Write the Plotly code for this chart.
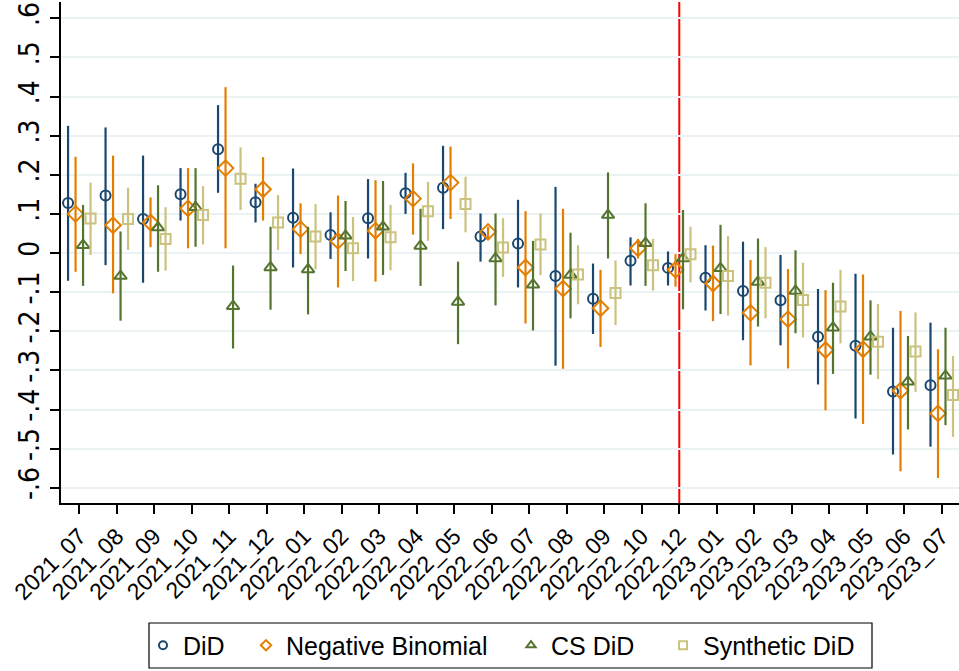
import plotly.graph_objects as go

categories = ["2021_07", "2021_08", "2021_09", "2021_10", "2021_11", "2021_12",
              "2022_01", "2022_02", "2022_03", "2022_04", "2022_05", "2022_06",
              "2022_07", "2022_08", "2022_09", "2022_10", "2022_12",
              "2023_01", "2023_02", "2023_03", "2023_04", "2023_05", "2023_06", "2023_07"]

did_est = [0.128, 0.147, 0.087, 0.150, 0.265, 0.130, 0.090, 0.046, 0.089, 0.153, 0.167, 0.042,
           0.024, -0.059, -0.117, -0.020, -0.038, -0.063, -0.097, -0.121, -0.214, -0.237, -0.354, -0.338]
did_lo = [-0.071, -0.031, -0.076, 0.083, 0.154, 0.078, -0.037, -0.015, -0.014, 0.100, 0.061, -0.022,
          -0.088, -0.288, -0.207, -0.083, -0.083, -0.147, -0.223, -0.236, -0.336, -0.423, -0.515, -0.495]
did_hi = [0.325, 0.321, 0.249, 0.217, 0.378, 0.177, 0.216, 0.104, 0.189, 0.205, 0.274, 0.101,
          0.136, 0.169, -0.027, 0.040, 0.004, 0.020, 0.029, -0.005, -0.092, -0.053, -0.191, -0.178]

nb_est = [0.100, 0.071, 0.078, 0.114, 0.217, 0.163, 0.061, 0.031, 0.057, 0.139, 0.180, 0.054,
          -0.037, -0.091, -0.141, 0.012, -0.043, -0.078, -0.153, -0.169, -0.248, -0.246, -0.352, -0.410]
nb_lo = [-0.048, -0.103, 0.015, 0.012, 0.012, 0.083, -0.003, -0.088, -0.073, 0.047, 0.087, 0.038,
         -0.180, -0.296, -0.240, -0.014, -0.086, -0.174, -0.287, -0.295, -0.402, -0.437, -0.558, -0.575]
nb_hi = [0.246, 0.249, 0.142, 0.217, 0.424, 0.245, 0.127, 0.147, 0.186, 0.229, 0.272, 0.067,
         0.107, 0.113, -0.043, 0.036, -0.003, 0.019, -0.018, -0.041, -0.095, -0.055, -0.148, -0.246]

cs_est = [0.020, -0.059, 0.065, 0.117, -0.136, -0.037, -0.042, 0.044, 0.067, 0.018, -0.125, -0.014,
          -0.081, -0.056, 0.097, 0.025, -0.014, -0.039, -0.074, -0.097, -0.191, -0.214, -0.329, -0.314]
cs_lo = [-0.084, -0.173, -0.048, 0.016, -0.244, -0.145, -0.157, -0.046, -0.056, -0.084, -0.233, -0.134,
         -0.198, -0.167, -0.014, -0.084, -0.144, -0.156, -0.188, -0.205, -0.309, -0.311, -0.451, -0.440]
cs_hi = [0.123, 0.055, 0.173, 0.217, -0.032, 0.067, 0.067, 0.133, 0.184, 0.113, -0.022, 0.101,
         0.031, 0.052, 0.206, 0.127, 0.110, 0.072, 0.037, 0.007, -0.076, -0.121, -0.212, -0.191]

sd_est = [0.088, 0.087, 0.036, 0.097, 0.190, 0.078, 0.042, 0.012, 0.040, 0.107, 0.125, 0.014,
          0.022, -0.055, -0.102, -0.031, -0.003, -0.059, -0.076, -0.120, -0.137, -0.227, -0.252, -0.363]
sd_lo = [-0.005, 0.008, -0.045, 0.022, 0.110, 0.008, -0.042, -0.072, -0.044, 0.031, 0.053, -0.061,
         -0.057, -0.131, -0.184, -0.096, -0.075, -0.160, -0.167, -0.216, -0.231, -0.322, -0.355, -0.470]
sd_hi = [0.180, 0.167, 0.117, 0.171, 0.270, 0.148, 0.125, 0.092, 0.123, 0.182, 0.195, 0.089,
         0.101, 0.020, -0.019, 0.036, 0.067, 0.043, 0.015, -0.025, -0.043, -0.130, -0.152, -0.263]

series_names = ["DiD", "Negative Binomial", "CS DiD", "Synthetic DiD"]
ytick_vals = [-0.6, -0.5, -0.4, -0.3, -0.2, -0.1, 0, 0.1, 0.2, 0.3, 0.4, 0.5, 0.6]
ytick_text = ["-.6", "-.5", "-.4", "-.3", "-.2", "-.1", "0", ".1", ".2", ".3", ".4", ".5", ".6"]
event_category = "2022_12"

colors = ["#1a476f", "#e37e00", "#55752f", "#cac27e"]
symbols = ["circle-open", "diamond-open", "triangle-up-open", "square-open"]
sizes = [10, 12, 11, 10]
offsets = [-0.3, -0.1, 0.1, 0.3]
data = [(did_est, did_lo, did_hi), (nb_est, nb_lo, nb_hi), (cs_est, cs_lo, cs_hi), (sd_est, sd_lo, sd_hi)]

# layout geometry (pixels)
W, H = 959, 671
ML, MR, MT, MB = 61, 0, 2, 168
PW = W - ML - MR
PH = H - MT - MB
def px_x(p):
    return (p - ML) / PW
def px_y(p):
    return (H - MB - p) / PH

fig = go.Figure()
idx = list(range(len(categories)))

for k, (est, lo, hi) in enumerate(data):
    xs = [i + offsets[k] for i in idx]
    fig.add_trace(go.Scatter(
        x=xs, y=est, mode="markers", showlegend=False,
        marker=dict(symbol=symbols[k], size=sizes[k], color=colors[k], line=dict(width=2, color=colors[k])),
        error_y=dict(type="data", symmetric=False,
                     array=[h - e for h, e in zip(hi, est)],
                     arrayminus=[e - l for e, l in zip(est, lo)],
                     width=0, thickness=2.2, color=colors[k]),
    ))

legend_names = ["legend", "legend2", "legend3", "legend4"]
legend_marker_px = [163, 266, 531, 683]
for k in range(4):
    fig.add_trace(go.Scatter(
        x=[None], y=[None], mode="markers", name=series_names[k], legend=legend_names[k],
        marker=dict(symbol=symbols[k], size=8, color=colors[k], line=dict(width=2, color=colors[k])),
    ))

ev = categories.index(event_category)
fig.add_shape(type="line", xref="x", yref="paper", x0=ev, x1=ev, y0=0, y1=1,
              line=dict(color="#ff0000", width=2), layer="below")
fig.add_shape(type="line", xref="paper", yref="y", x0=0, x1=1, y0=0, y1=0,
              line=dict(color="#c10534", width=2.2, dash="8px,5px"), layer="below")
# legend frame
fig.add_shape(type="rect", xref="paper", yref="paper",
              x0=px_x(149), x1=px_x(872), y0=px_y(668), y1=px_y(623),
              line=dict(color="black", width=1.2), fillcolor="rgba(0,0,0,0)")

leg_font = dict(size=25, family="Liberation Sans, Arial, sans-serif", color="black")
legends = {}
for k in range(4):
    legends[legend_names[k]] = dict(
        orientation="h", x=px_x(legend_marker_px[k] - 20), xanchor="left",
        y=px_y(645.5), yanchor="middle", bgcolor="rgba(0,0,0,0)", borderwidth=0,
        font=leg_font, itemwidth=30)

fig.update_layout(
    width=W, height=H,
    margin=dict(l=ML, r=MR, t=MT, b=MB),
    paper_bgcolor="white", plot_bgcolor="white",
    font=dict(family="Liberation Sans, Arial, sans-serif", color="black"),
    showlegend=True,
    **legends,
)

fig.update_xaxes(
    range=[-0.488, 23.46], tickmode="array", tickvals=idx, ticktext=categories,
    tickangle=-45, tickfont=dict(size=23), ticks="outside", ticklen=9, tickwidth=1.5,
    tickcolor="black", showline=True, linecolor="black", linewidth=1.5,
    showgrid=False, zeroline=False,
)
fig.update_yaxes(
    range=[-0.639, 0.6416], tickmode="array", tickvals=ytick_vals, ticktext=ytick_text,
    tickangle=-90, tickfont=dict(size=28, family="Liberation Sans Narrow, DejaVu Sans Condensed, Liberation Sans, sans-serif"),
    ticks="outside", ticklen=9, tickwidth=1.5,
    tickcolor="black", showline=True, linecolor="black", linewidth=1.5,
    showgrid=True, gridcolor="#eaf2f3", gridwidth=2, zeroline=False,
)

fig.write_html("out.html")
